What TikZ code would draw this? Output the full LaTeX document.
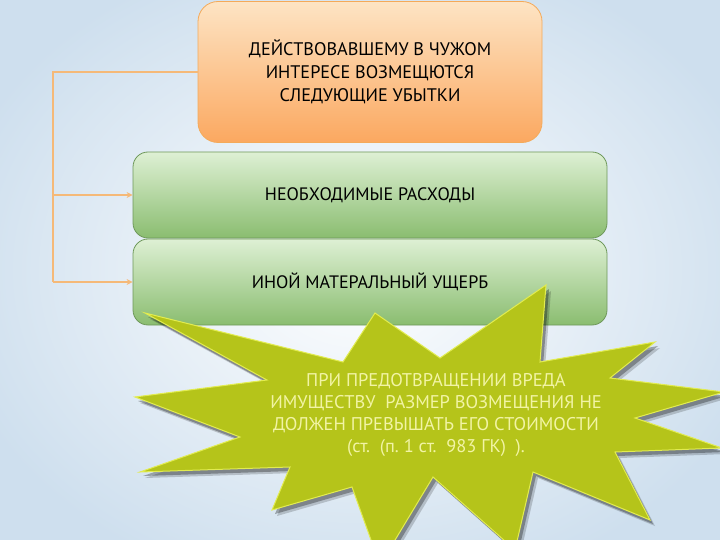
\documentclass[tikz,border=0pt]{standalone}
\usepackage{fontspec}
\setmainfont{PT Sans}
\usetikzlibrary{arrows.meta,shadings}
\definecolor{bgblue}{RGB}{206,223,238}
\definecolor{otop}{RGB}{253,228,196}
\definecolor{obot}{RGB}{251,168,96}
\definecolor{oline}{RGB}{244,170,90}
\definecolor{gtop}{RGB}{222,240,212}
\definecolor{gbot}{RGB}{138,189,112}
\definecolor{gline}{RGB}{110,152,90}
\definecolor{connc}{RGB}{245,185,120}
\definecolor{starfill}{RGB}{181,196,26}
\definecolor{staredge}{RGB}{226,236,80}
\definecolor{startext}{RGB}{242,244,165}
\tikzset{
  obox/.style={draw=oline, line width=0.8pt, rounded corners=20pt, top color=otop, bottom color=obot,
    minimum width=344pt, minimum height=141pt, align=center, text=black,
    font=\fontsize{18.2}{23}\selectfont},
  gbox/.style={draw=gline, line width=0.8pt, rounded corners=15pt, top color=gtop, bottom color=gbot,
    minimum width=474pt, minimum height=86pt, align=center, text=black,
    font=\fontsize{18}{22}\selectfont},
  conn/.style={draw=connc, line width=1.6pt},
  connarr/.style={conn, -{Stealth[length=6pt,width=6pt]}},
  startxt/.style={align=center, text=startext, font=\fontsize{18.4}{22}\selectfont}
}
\begin{document}
\begin{tikzpicture}[x=1pt,y=-1pt]
\useasboundingbox (0,0) rectangle (720,540);
\shade[inner color=white, outer color=bgblue] (-60,-60) rectangle (780,600);
% boxes
\node[obox] (o) at (370,72) {ДЕЙСТВОВАВШЕМУ В ЧУЖОМ\\ИНТЕРЕСЕ ВОЗМЕЩЮТСЯ\\СЛЕДУЮЩИЕ УБЫТКИ};
\node[gbox] (g1) at (370,195) {НЕОБХОДИМЫЕ РАСХОДЫ};
\node[gbox] (g2) at (370,282) {ИНОЙ МАТЕРАЛЬНЫЙ УЩЕРБ};
% connectors
\coordinate (cx) at (53,0);
\draw[conn] (o.west) -- (o.west -| cx) -- (g2.west -| cx);
\draw[connarr] (g1.west -| cx) -- (g1.west);
\draw[connarr] (g2.west -| cx) -- (g2.west);
% star
\def\starpath{(145,313) -- (343,362) -- (375,313) -- (440,358) -- (546,285) -- (540,362) -- (655,342) -- (610,378) -- (724,392) -- (635,418) -- (722,448) -- (615,452) -- (650,520) -- (533,472) -- (515,550) -- (433,477) -- (380,565) -- (352,487) -- (272,510) -- (290,467) -- (140,472) -- (240,437) -- (135,397) -- (267,380) -- cycle}
\begin{scope}[shift={(5,6)}]
\fill[black, opacity=0.18] \starpath;
\end{scope}
\begin{scope}[shift={(3,4)}]
\fill[black, opacity=0.3] \starpath;
\end{scope}
\fill[starfill, draw=staredge, line width=1pt, line join=miter] \starpath;
\node[startxt] (s) at (436,415) {ПРИ ПРЕДОТВРАЩЕНИИ ВРЕДА\\ИМУЩЕСТВУ\ \ РАЗМЕР ВОЗМЕЩЕНИЯ НЕ\\ДОЛЖЕН ПРЕВЫШАТЬ ЕГО СТОИМОСТИ\\(ст.\ \ (п.\ 1 ст.\ \ 983 ГК)\ \ ).};
\end{tikzpicture}
\end{document}
